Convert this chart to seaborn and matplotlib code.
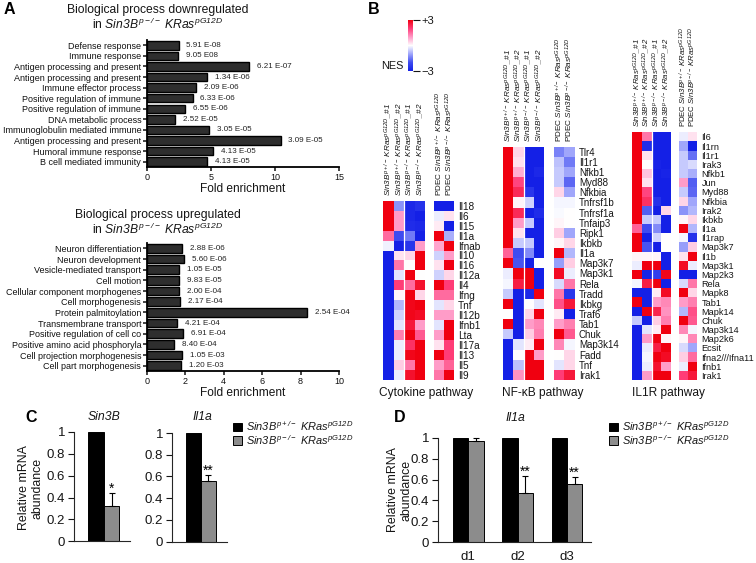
import numpy as np
import pandas as pd
import matplotlib
matplotlib.use("Agg")
import matplotlib.pyplot as plt
import seaborn as sns
from matplotlib.colors import LinearSegmentedColormap, Normalize
from matplotlib.cm import ScalarMappable

#----- data: panel A -----
down_terms = ["Defense response", "Immune response", "Antigen processing and present",
              "Antigen processing and present", "Immune effector process",
              "Positive regulation of immune", "Positive regulation of immune",
              "DNA metabolic process", "Immunoglobulin mediated immune",
              "Antigen processing and present", "Humoral immune response",
              "B cell mediated immunity"]
down_fold = [2.5, 2.45, 8.0, 4.7, 3.85, 3.6, 3.0, 2.2, 4.85, 10.45, 5.2, 4.7]
down_p = ["5.91 E-08", "9.05 E08", "6.21 E-07", "1.34 E-06", "2.09 E-06", "6.33 E-06",
          "6.55 E-06", "2.52 E-05", "3.05 E-05", "3.09 E-05", "4.13 E-05", "4.13 E-05"]

up_terms = ["Neuron differentiation", "Neuron development", "Vesicle-mediated transport",
            "Cell motion", "Cellular component morphogenes", "Cell morphogenesis",
            "Protein palmitoylation", "Transmembrane transport", "Positive regulation of cell co",
            "Positive amino acid phosphoryla", "Cell projection morphogenesis",
            "Cell part morphogenesis"]
up_fold = [1.85, 1.96, 1.7, 1.7, 1.68, 1.75, 8.34, 1.58, 1.9, 1.44, 1.85, 1.78]
up_p = ["2.88 E-06", "5.60 E-06", "1.05 E-05", "9.83 E-05", "2.00 E-04", "2.17 E-04",
        "2.54 E-04", "4.21 E-04", "6.91 E-04", "8.40 E-04", "1.05 E-03", "1.20 E-03"]

#----- data: panel B -----
cyto_genes = ["Il18", "Il6", "Il15", "Il1a", "Ifnab", "Il10", "Il16", "Il12a", "Il4", "Ifng",
              "Tnf", "Il12b", "Ifnb1", "Lta", "Il17a", "Il13", "Il5", "Il9"]
cyto_tumor = [[3, -1.2, -2.8, -2.6], [3, 1, -2.8, -3], [3, 1, -2.7, -2.8], [1.5, -2, -1.5, -3],
              [-0.15, -3, -2.5, 1], [-3, 0.3, 0.4, 3], [-3, 1.4, 0, 3], [-3, -0.3, 3, 0],
              [-3, 2, 1.5, 2.7], [-3, 0.1, 3, 0.4], [-3, -0.8, 2.9, 3], [-3, -0.5, 2.9, 2.8],
              [-3, -0.3, 2.6, 1], [-3, 1.3, 3, 1.7], [-3, -0.2, 2.2, 3], [-3, -0.2, 2.9, 3],
              [-3, 0.5, 1.4, 3], [-3, -0.2, 2.7, 3]]
cyto_pdec = [[-3, -3], [-0.2, 0.3], [0.2, -3], [3, -0.9], [0.9, 3], [-0.5, 1], [0.3, 3],
             [-0.5, 0.4], [3, 2], [1.5, 1.5], [-0.3, 0.4], [1, 1], [-0.3, 3], [1, 3],
             [0.3, 2], [3, 2], [1, 1.6], [1.4, 3]]

nfkb_genes = ["Tlr4", "Il1r1", "Nfkb1", "Myd88", "Nfkbia", "Tnfrsf1b", "Tnfrsf1a", "Tnfaip3",
              "Ripk1", "Ikbkb", "Il1a", "Map3k7", "Map3k1", "Rela", "Tradd", "Ikbkg", "Traf6",
              "Tab1", "Chuk", "Map3k14", "Fadd", "Tnf", "Irak1"]
nfkb_tumor = [[3, 0.4, -3, -3], [3, 0.3, -3, -3], [3, 0.8, -3, -2.8], [3, 1.9, -3, -3],
              [3, 2.3, -2.5, -3], [3, 0.1, -0.5, -3], [3, 2.3, -3, -2.7], [3, 1, -0.6, -3],
              [3, 0.3, -3, -3], [3, -0.6, -0.6, -3], [1.6, -2, -1.3, -3], [3, -1.9, -3, 0],
              [-0.2, 3, 3, -3], [-0.1, 2.5, 3, -3], [-0.6, -3, -2.8, 3], [3, -3, 0, -0.3],
              [0, -3, 0.4, 3], [3, -3, 1, 1.2], [-0.6, -3, 0.5, 1.3], [-3, -0.3, 0.2, 3],
              [-3, 0, 3, 1], [-3, -0.7, 3, 3], [-3, 1.1, 3, 3]]
nfkb_pdec = [[-1.4, -1], [-0.7, -1.5], [-0.6, -1], [-0.6, -1.7], [0.4, -1], [-0.1, -0.1],
             [-0.05, 0], [0.1, 0], [0.5, -1], [0.1, 0.4], [3, -0.8], [-1.1, 0.5], [2.8, -0.2],
             [-0.4, 1.4], [1.4, -2.5], [1.8, 2.6], [0.2, -3], [1, 1.3], [3, 1.7], [1.2, -0.1],
             [0, 0.4], [-0.3, 0.4], [2, 2.6]]

il1r_genes = ["Il6", "Il1rn", "Il1r1", "Irak3", "Nfkb1", "Jun", "Myd88", "Nfkbia", "Irak2",
              "Ikbkb", "Il1a", "Il1rap", "Map3k7", "Il1b", "Map3k1", "Map2k3", "Rela", "Mapk8",
              "Tab1", "Mapk14", "Chuk", "Map3k14", "Map2k6", "Ecsit", "Ifna2///Ifna11", "Ifnb1",
              "Irak1"]
il1r_tumor = [[3, 1.4, -3, -3], [3, -2.7, -3, -3], [3, 0.3, -3, -3], [3, 0, -2.9, -3],
              [3, 0.6, -3, -2.9], [3, 0.3, -3, -3], [3, 1.9, -3, -3], [3, 2.2, -2.6, -3],
              [3, -1.8, -3, 0.4], [3, -0.6, -0.6, -3], [1.6, -2, -1.3, -3], [3, -3, -0.5, 0],
              [3, -1.9, -3, 0], [0.1, 0.1, 0.1, -3], [-0.2, 3, 3, -3], [3, -2.9, -2.3, 2.9],
              [-0.1, 2.5, 3, -3], [-3, -3, 0.2, 2.8], [3, -3, 1, 1.2], [-3, 3, 2.4, 1.1],
              [-0.6, -3, 0.5, 1.3], [-3, -0.3, 0.2, 3], [-3, 1, 3, 0.1], [-3, -0.2, 2.5, 3],
              [-3, -0.1, 3, 2.8], [-3, -0.2, 2.7, 1], [-3, 1, 3, 3]]
il1r_pdec = [[-0.2, 0.3], [-1, -3], [-0.6, -1.6], [-0.6, -0.4], [-0.6, -0.9], [1, -1.8],
             [-0.6, -1.7], [0.4, -1], [-1.2, -0.8], [0.1, 0.4], [3, -0.8], [-0.1, -2.6],
             [-1.1, 0.5], [0.3, 3], [2.8, -0.2], [-3, -3], [-0.4, 1.4], [3, 0.4], [1, 1.3],
             [-0.8, 1.8], [3, 1.7], [1.2, -0.1], [0.1, 1.2], [-0.4, -1], [0.5, 1.5],
             [-0.2, 3], [2, 2.6]]

#----- data: panels C and D -----
HET = r"$\mathit{Sin3B}^{p+/-}\ \mathit{KRas}^{pG12D}$"
KO = r"$\mathit{Sin3B}^{p-/-}\ \mathit{KRas}^{pG12D}$"
genotypes = [HET, KO]
sin3b_vals = [1, 0.32]
sin3b_err = [0, 0.12]
il1a_vals = [1, 0.56]
il1a_err = [0, 0.05]
days = ["d1", "d2", "d3"]
day_het = [1, 1, 1]
day_ko = [0.97, 0.47, 0.56]
day_ko_err = [0.03, 0.16, 0.06]
day_stars = ["", "**", "**"]
mrna_ticks = [0, 0.2, 0.4, 0.6, 0.8, 1]
mrna_ticklabels = ["0", "0.2", "0.4", "0.6", "0.8", "1"]

sns.set_theme(style="ticks")
plt.rcParams["font.family"] = ["Liberation Sans", "DejaVu Sans"]
plt.rcParams["mathtext.fontset"] = "custom"
plt.rcParams["mathtext.it"] = "Liberation Sans:italic"
plt.rcParams["mathtext.rm"] = "Liberation Sans:italic"
plt.rcParams["axes.linewidth"] = 0.8

W, H = 756, 563
fig = plt.figure(figsize=(W / 100, H / 100), dpi=100)


def add_ax(left, top, right, bottom):
    # axes from pixel box of the reference
    return fig.add_axes([left / W, 1 - bottom / H, (right - left) / W, (bottom - top) / H])


def put(x, y, s, **kw):
    kw.setdefault("ha", "center")
    kw.setdefault("va", "center")
    kw.setdefault("color", "#151515")
    fig.text(x / W, 1 - y / H, s, **kw)


nes_cmap = LinearSegmentedColormap.from_list(
    "nes", ["#1420e6", "#3f4cf0", "#a0a6fb", "#ffffff", "#ff9cc8", "#ff3d78", "#f00010"])
nes_norm = Normalize(-3, 3)

#----- panel A: enrichment bars -----


def enrichment(ax, terms, fold, pvals, xmax, xticks):
    ypos = np.arange(len(terms))
    sns.barplot(x=fold, y=ypos, orient="y", color="#2e2e2e", saturation=1, width=0.8,
                edgecolor="black", linewidth=1, ax=ax)
    for y, v, p in zip(ypos, fold, pvals):
        ax.annotate(p, xy=(v, y), xytext=(5.5, 0), textcoords="offset points",
                    fontsize=5.8, va="center", color="#222222")
    ax.set_yticks(ypos, terms)
    ax.set_xlim(0, xmax)
    ax.set_ylim(len(terms) - 0.5, -0.5)
    ax.set_xticks(xticks)
    ax.set_xlabel("")
    ax.set_ylabel("")
    ax.tick_params(axis="y", labelsize=6.45, length=3, width=1.1, pad=1, colors="#111111")
    ax.tick_params(axis="x", labelsize=6.5, length=3, width=1.1, pad=1.5, colors="#111111")
    sns.despine(ax=ax)
    for side in ["left", "bottom"]:
        ax.spines[side].set_linewidth(1.3)
        ax.spines[side].set_color("black")


enrichment(add_ax(146.7, 40, 339, 167), down_terms, down_fold, down_p, 15, [0, 5, 10, 15])
enrichment(add_ax(146.7, 243, 339, 371), up_terms, up_fold, up_p, 10, [0, 2, 4, 6, 8, 10])

LINE2 = r"in $\mathit{Sin3B}^{p-/-}\ \mathit{KRas}^{pG12D}$"
put(158, 10, "Biological process downregulated", fontsize=8.7)
put(158, 24, LINE2, fontsize=8.7)
put(243, 189, "Fold enrichment", fontsize=8.6)
put(158, 215, "Biological process upregulated", fontsize=8.7)
put(158, 229, LINE2, fontsize=8.7)
put(243, 393, "Fold enrichment", fontsize=8.6)

#----- panel B: heatmaps -----
tumor_cols = [HET[:-1] + r"\_\#1$", HET[:-1] + r"\_\#2$", KO[:-1] + r"\_\#1$", KO[:-1] + r"\_\#2$"]
pdec_cols = ["PDEC " + HET, "PDEC " + KO]


def pathway(box1, box2, top, bottom, genes, tumor, pdec, gene_size, col_size):
    ax1 = add_ax(box1[0], top, box1[1], bottom)
    ax2 = add_ax(box2[0], top, box2[1], bottom)
    sns.heatmap(pd.DataFrame(tumor, index=genes, columns=tumor_cols), cmap=nes_cmap,
                norm=nes_norm, cbar=False, ax=ax1, xticklabels=True, yticklabels=False)
    sns.heatmap(pd.DataFrame(pdec, index=genes, columns=pdec_cols), cmap=nes_cmap,
                norm=nes_norm, cbar=False, ax=ax2, xticklabels=True, yticklabels=True)
    ax1.axvline(2, color="white", lw=0.9)
    for ax in [ax1, ax2]:
        ax.xaxis.tick_top()
        ax.tick_params(axis="x", length=0, pad=3.5, labelsize=col_size, labelrotation=90,
                       colors="#151515")
    ax2.yaxis.tick_right()
    ax2.tick_params(axis="y", length=0, pad=3, labelsize=gene_size, labelrotation=0,
                    colors="#151515")


pathway((383.3, 425), (434, 454), 200.7, 380, cyto_genes, cyto_tumor, cyto_pdec, 7.2, 5.9)
pathway((502.7, 544.3), (554, 574.7), 146.7, 380, nfkb_genes, nfkb_tumor, nfkb_pdec, 7, 5.9)
pathway((632.3, 670.7), (679.3, 697.3), 132.3, 380, il1r_genes, il1r_tumor, il1r_pdec, 6.6, 5.6)

put(426, 393, "Cytokine pathway", fontsize=8.6)
put(542.7, 393, "NF-κB pathway", fontsize=8.6)
put(669, 393, "IL1R pathway", fontsize=8.6)

cax = add_ax(407.7, 20, 413.3, 71)
cbar = fig.colorbar(ScalarMappable(norm=nes_norm, cmap=nes_cmap), cax=cax)
cbar.outline.set_visible(False)
cbar.set_ticks([-3, 3], labels=["−3", "+3"])
cbar.ax.tick_params(labelsize=8, length=5, width=0.8, pad=1, colors="#151515")
put(392.5, 66, "NES", fontsize=7.8)

#----- panels C and D: qPCR bars -----


def style_mrna(ax):
    ax.set_ylim(0, 1)
    ax.set_yticks(mrna_ticks, mrna_ticklabels)
    ax.set_xlabel("")
    ax.set_ylabel("")
    ax.tick_params(axis="y", labelsize=9.5, length=4, width=0.8, pad=2.5, colors="#151515")
    sns.despine(ax=ax)
    ax.get_legend().remove()


def single_gene(ax, vals, errs, star, xlim):
    frame = pd.DataFrame({"genotype": genotypes, "value": vals})
    sns.barplot(data=frame, x="genotype", y="value", hue="genotype", width=1, saturation=1,
                palette=["black", "#8c8c8c"], edgecolor="black", linewidth=0.7, ax=ax,
                legend=True)
    handles = ax.get_legend_handles_labels()
    bar = ax.containers[1][0]
    xc = bar.get_x() + bar.get_width() / 2
    ax.errorbar([xc], [vals[1]], yerr=[[0], [errs[1]]], color="black", lw=0.8, capsize=2.5,
                capthick=0.8)
    ax.annotate(star, xy=(xc, vals[1] + errs[1]), xytext=(0, -2), textcoords="offset points",
                ha="center", va="bottom", fontsize=10, color="black")
    ax.set_xlim(*xlim)
    ax.set_xticks([])
    style_mrna(ax)
    return handles


ax_c1 = add_ax(74, 432, 130, 541.3)
handles_c = single_gene(ax_c1, sin3b_vals, sin3b_err, "*", (-1.41, 2.18))
ax_c2 = add_ax(172, 433, 226.7, 541.7)
single_gene(ax_c2, il1a_vals, il1a_err, "**", (-1.49, 2.26))

ax_d = add_ax(438.3, 437.7, 590.7, 542.3)
day_frame = pd.DataFrame({"day": days * 2, "value": day_het + day_ko,
                          "genotype": [HET] * 3 + [KO] * 3})
sns.barplot(data=day_frame, x="day", y="value", hue="genotype", width=0.62, saturation=1,
            palette=["black", "#8c8c8c"], edgecolor="black", linewidth=0.7, ax=ax_d)
for bar, v, e, s in zip(ax_d.containers[1], day_ko, day_ko_err, day_stars):
    xc = bar.get_x() + bar.get_width() / 2
    ax_d.errorbar([xc], [v], yerr=[[0], [e]], color="black", lw=0.8, capsize=2.5, capthick=0.8,
                  clip_on=False)
    ax_d.annotate(s, xy=(xc, v + e), xytext=(0, -2), textcoords="offset points", ha="center",
                  va="bottom", fontsize=10, color="black")
ax_d.set_xlim(-0.61, 2.48)
style_mrna(ax_d)
ax_d.tick_params(axis="x", labelsize=9.5, length=0, pad=6, colors="#151515")

put(104, 417, "Sin3B", fontsize=8.8, style="italic")
put(202, 417, "Il1a", fontsize=8.8, style="italic")
put(515, 418, "Il1a", fontsize=8.8, style="italic")
put(31, 488, "Relative mRNA\nabundance", fontsize=8.9, rotation=90, linespacing=1.15)
put(400, 490, "Relative mRNA\nabundance", fontsize=8.9, rotation=90, linespacing=1.15)

for lx in [233, 609]:
    fig.legend(handles_c[0], handles_c[1], loc="upper left",
               bbox_to_anchor=(lx / W, 1 - 419 / H), borderaxespad=0, borderpad=0, frameon=False,
               handlelength=0.85, handleheight=0.85, handletextpad=0.3, labelspacing=0.0,
               fontsize=7.9, labelcolor="#151515")

#----- panel letters -----
for x, y, s in [(9, 10, "A"), (374, 9, "B"), (31, 417, "C"), (400, 417, "D")]:
    put(x, y, s, fontsize=11.5, fontweight="bold", color="black")

fig.savefig("out.png", dpi=100)
